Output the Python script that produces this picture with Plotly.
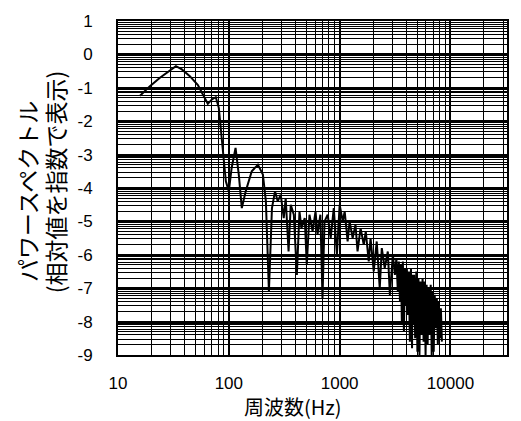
import plotly.graph_objects as go

# Frequency (Hz) and power spectrum exponent (log10 of relative value)
freq_hz = [
    15.8, 19.4, 23.9, 29.4, 33.3, 37.7, 44.5, 52.6, 59.5, 64.6, 70.2, 76.3, 81.2, 86.5, 94, 100,
    106, 115, 123, 131, 142, 161, 183, 203, 216, 230, 245, 261, 276, 294, 313, 326, 346, 362,
    386, 411, 434, 452, 484, 505, 534, 570, 606, 631, 670, 700, 730, 780, 830, 885, 944, 1000,
    1066, 1110, 1180, 1230, 1310, 1390, 1450, 1545, 1650, 1720, 1830, 1900, 2030, 2160, 2300,
    2400, 2550, 2720, 2840, 3020, 3150, 3250, 3350, 3420, 3500, 3570, 3640, 3720, 3800, 3880,
    3960, 4040, 4130, 4210, 4300, 4400, 4500, 4550, 4600, 4700, 4800, 4920, 5030, 5140, 5250,
    5360, 5480, 5600, 5720, 5840, 5960, 6090, 6220, 6350, 6490, 6630, 6770, 6910, 7060, 7210,
    7370, 7530, 7690, 7850, 8020, 8190, 8370, 8550, 8730,
]
power_exp = [
    -1.24, -0.95, -0.70, -0.48, -0.35, -0.45, -0.65, -0.92, -1.25, -1.48, -1.35, -1.28, -1.6,
    -2.6, -3.8, -4.1, -3.4, -2.8, -3.6, -4.6, -4.1, -3.5, -3.3, -3.6, -4.4, -7.1, -4.6, -4.1,
    -4.4, -4.2, -4.9, -4.3, -5.9, -4.5, -4.8, -6.6, -4.7, -5.2, -4.9, -6.3, -4.8, -5.3, -4.7,
    -5.4, -4.8, -7.3, -5.0, -4.8, -5.5, -4.6, -6.0, -4.5, -5.0, -4.7, -5.6, -5.0, -5.5, -5.1,
    -5.9, -5.2, -5.7, -5.3, -6.2, -5.5, -6.5, -5.6, -7.0, -5.8, -6.4, -5.9, -7.2, -6.0, -6.6,
    -6.1, -7.1, -6.2, -7.4, -6.3, -8.0, -6.2, -8.3, -6.4, -7.5, -6.4, -7.8, -6.5, -8.6, -6.4,
    -8.8, -6.6, -8.1, -6.6, -8.5, -6.5, -8.9, -6.7, -9.0, -6.8, -8.4, -6.7, -8.6, -6.8, -9.0,
    -6.9, -8.7, -7.0, -8.4, -6.9, -9.0, -7.1, -8.9, -7.2, -8.2, -7.3, -8.7, -7.4, -8.5, -7.6,
    -8.6,
]

x_tick_vals = [10, 100, 1000, 10000]
x_tick_text = ["10", "100", "1000", "10000"]
y_exponents = [1, 0, -1, -2, -3, -4, -5, -6, -7, -8, -9]

power_rel = [10 ** e for e in power_exp]

fig = go.Figure()
fig.add_trace(go.Scatter(
    x=freq_hz, y=power_rel, mode="lines",
    line=dict(color="black", width=2),
    showlegend=False, hoverinfo="skip",
))

axis_font = dict(family="Liberation Sans, Arial, sans-serif", size=17, color="black")

fig.update_xaxes(
    type="log", range=[1, 4.51],
    tickmode="array", tickvals=x_tick_vals, ticktext=x_tick_text,
    tickfont=axis_font, ticks="", ticklabelstandoff=12,
    showgrid=True, gridcolor="black", gridwidth=2,
    minor=dict(showgrid=True, gridcolor="black", gridwidth=1, dtick="D1"),
    showline=True, linecolor="black", linewidth=2, mirror=True,
    zeroline=False,
)
fig.update_yaxes(
    type="log", range=[-9, 1],
    tickmode="array", tickvals=[10 ** e for e in y_exponents],
    ticktext=[str(e) for e in y_exponents],
    tickfont=axis_font, ticks="", ticklabelstandoff=20,
    showgrid=True, gridcolor="black", gridwidth=2,
    minor=dict(showgrid=True, gridcolor="black", gridwidth=1, dtick="D1"),
    showline=True, linecolor="black", linewidth=2, mirror=True,
    zeroline=False,
)

title_font = dict(family="Noto Sans CJK JP", color="black")
fig.add_annotation(text="パワースペクトル", xref="paper", yref="paper",
                   x=-0.232, y=0.49, textangle=-90, showarrow=False,
                   font=dict(size=23, **title_font), xanchor="center", yanchor="middle")
fig.add_annotation(text="(相対値を指数で表示)", xref="paper", yref="paper",
                   x=-0.162, y=0.52, textangle=-90, showarrow=False,
                   font=dict(size=23, **title_font), xanchor="center", yanchor="middle")
fig.add_annotation(text="周波数(Hz)", xref="paper", yref="paper",
                   x=0.449, y=-0.153, showarrow=False,
                   font=dict(size=20, **title_font), xanchor="center", yanchor="middle")

fig.update_layout(
    width=521, height=421,
    margin=dict(l=118, r=13, t=16, b=66),
    paper_bgcolor="white", plot_bgcolor="white",
)

fig.write_html("out.html")
